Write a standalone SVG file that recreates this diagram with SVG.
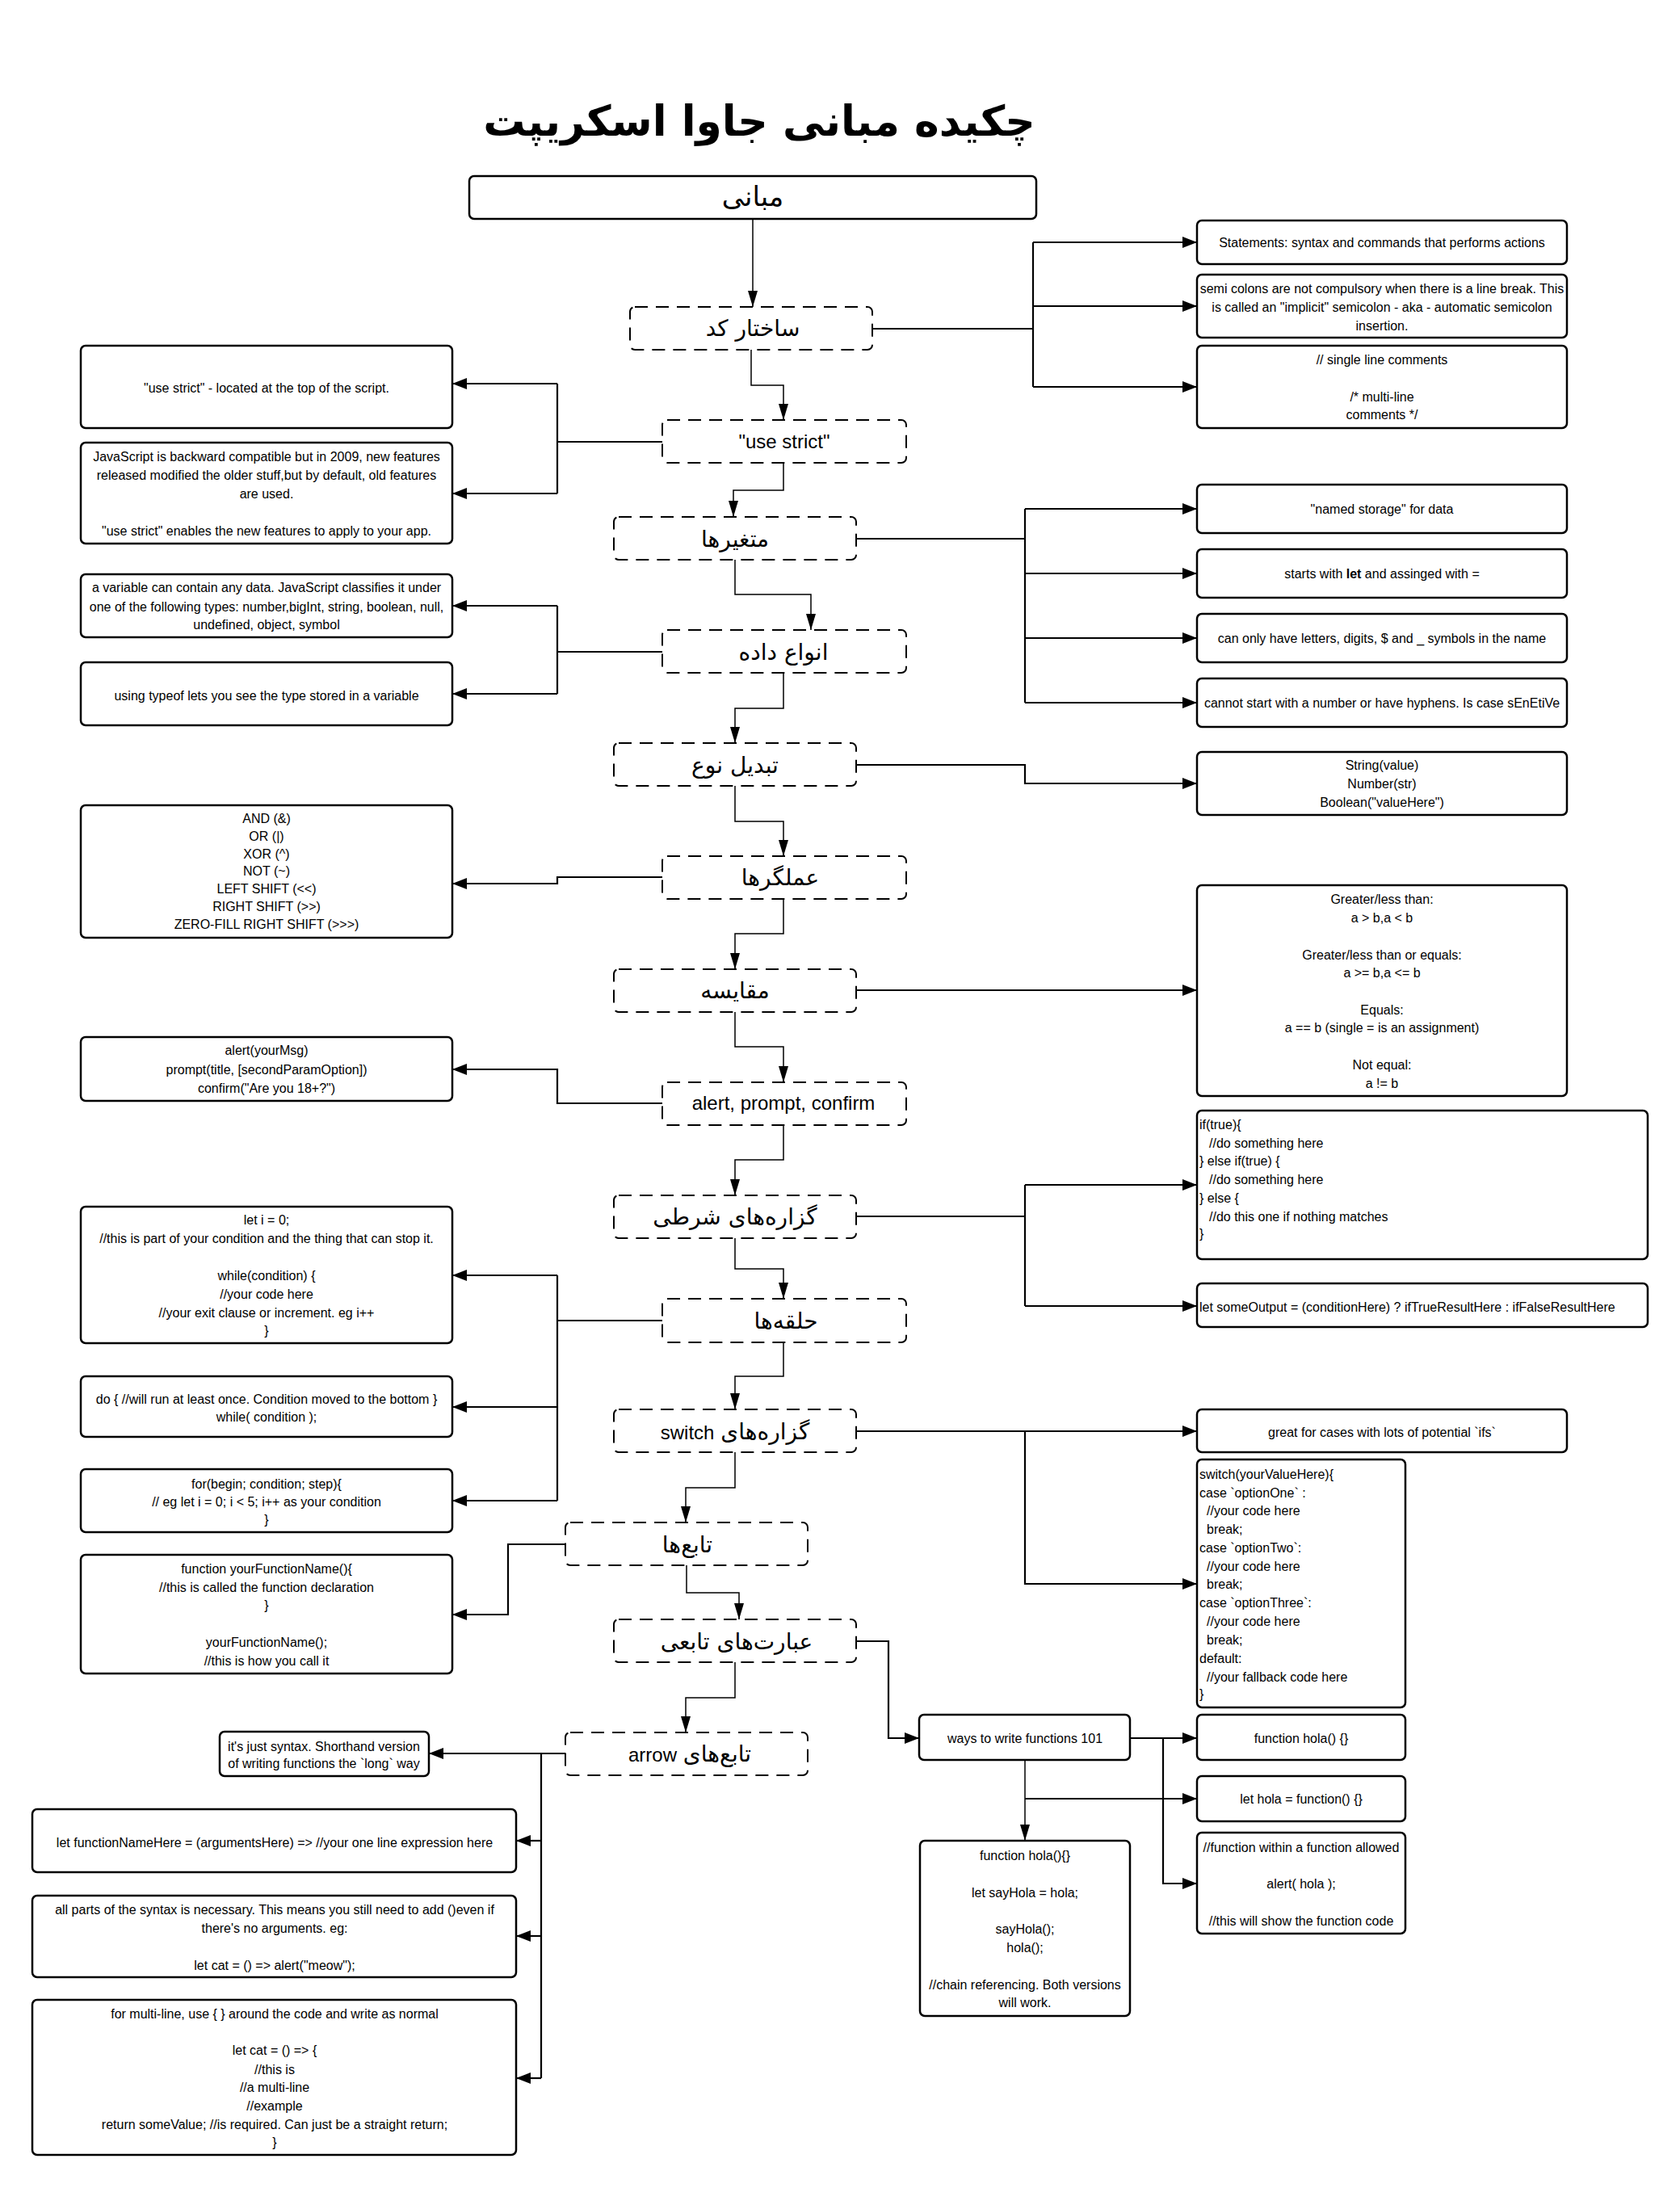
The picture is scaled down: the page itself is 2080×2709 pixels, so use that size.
<svg xmlns="http://www.w3.org/2000/svg" width="2080" height="2709" viewBox="0 0 2080 2709">
<style>
.box{fill:#fff;stroke:#000;stroke-width:2.5}
.dbox{fill:#fff;stroke:#000;stroke-width:2;stroke-dasharray:16 10}
.t{font-family:"Liberation Sans",sans-serif;font-size:16px;fill:#000}
.c{text-anchor:middle}
.lbl{font-family:"Liberation Sans","DejaVu Sans",sans-serif;font-size:24px;text-anchor:middle;fill:#000}
.fa{font-family:"DejaVu Sans",sans-serif;font-size:28px;text-anchor:middle;fill:#000}
.mix{font-family:"Liberation Sans","DejaVu Sans",sans-serif;font-size:28px;text-anchor:middle;fill:#000}
.side{fill:none;stroke:#000;stroke-width:2.2}
.main{fill:none;stroke:#000;stroke-width:1.5}
</style>
<defs>
<marker id="ab" markerWidth="18" markerHeight="14" refX="18" refY="7" orient="auto" markerUnits="userSpaceOnUse"><path d="M0,0 L18,7 L0,14 z" fill="#000"/></marker>
<marker id="an" markerWidth="20" markerHeight="12" refX="20" refY="6" orient="auto" markerUnits="userSpaceOnUse"><path d="M0,0 L20,6 L0,12 z" fill="#000"/></marker>
</defs>
<rect width="2080" height="2709" fill="#fff"/>
<text x="940" y="168" direction="rtl" style="font-family:'DejaVu Sans',sans-serif;font-size:52px;font-weight:bold;text-anchor:middle">چکیده مبانی جاوا اسکریپت</text>

<g id="connectors">
<path class="main" d="M932,271 V380" marker-end="url(#an)"/>
<path class="side" d="M1080,407 H1279"/>
<path class="side" d="M1279,300 V479"/>
<path class="side" d="M1279,300 H1482" marker-end="url(#ab)"/>
<path class="side" d="M1279,379 H1482" marker-end="url(#ab)"/>
<path class="side" d="M1279,479 H1482" marker-end="url(#ab)"/>
<path class="main" d="M930,433 V477 H970 V520" marker-end="url(#an)"/>
<path class="side" d="M820,547 H690"/>
<path class="side" d="M690,475 V611"/>
<path class="side" d="M690,475 H560" marker-end="url(#ab)"/>
<path class="side" d="M690,611 H560" marker-end="url(#ab)"/>
<path class="main" d="M970,573 V607 H908 V640" marker-end="url(#an)"/>
<path class="side" d="M1060,667 H1269"/>
<path class="side" d="M1269,630 V870"/>
<path class="side" d="M1269,630 H1482" marker-end="url(#ab)"/>
<path class="side" d="M1269,710 H1482" marker-end="url(#ab)"/>
<path class="side" d="M1269,790 H1482" marker-end="url(#ab)"/>
<path class="side" d="M1269,870 H1482" marker-end="url(#ab)"/>
<path class="main" d="M910,693 V736 H1004 V780" marker-end="url(#an)"/>
<path class="side" d="M820,807 H690"/>
<path class="side" d="M690,750 V859"/>
<path class="side" d="M690,750 H560" marker-end="url(#ab)"/>
<path class="side" d="M690,859 H560" marker-end="url(#ab)"/>
<path class="main" d="M970,833 V877 H910 V920" marker-end="url(#an)"/>
<path class="side" d="M1060,947 H1269 V970 H1482" marker-end="url(#ab)"/>
<path class="main" d="M910,973 V1017 H970 V1060" marker-end="url(#an)"/>
<path class="side" d="M820,1086 H690 V1094 H560" marker-end="url(#ab)"/>
<path class="main" d="M970,1113 V1156 H910 V1200" marker-end="url(#an)"/>
<path class="side" d="M1060,1226 H1482" marker-end="url(#ab)"/>
<path class="main" d="M910,1253 V1296 H970 V1340" marker-end="url(#an)"/>
<path class="side" d="M820,1366 H690 V1324 H560" marker-end="url(#ab)"/>
<path class="main" d="M970,1393 V1436 H910 V1480" marker-end="url(#an)"/>
<path class="side" d="M1060,1506 H1269"/>
<path class="side" d="M1269,1467 V1617"/>
<path class="side" d="M1269,1467 H1482" marker-end="url(#ab)"/>
<path class="side" d="M1269,1617 H1482" marker-end="url(#ab)"/>
<path class="main" d="M910,1533 V1571 H970 V1608" marker-end="url(#an)"/>
<path class="side" d="M820,1635 H690"/>
<path class="side" d="M690,1579 V1858"/>
<path class="side" d="M690,1579 H560" marker-end="url(#ab)"/>
<path class="side" d="M690,1742 H560" marker-end="url(#ab)"/>
<path class="side" d="M690,1858 H560" marker-end="url(#ab)"/>
<path class="main" d="M970,1662 V1704 H910 V1745" marker-end="url(#an)"/>
<path class="side" d="M1060,1772 H1482" marker-end="url(#ab)"/>
<path class="side" d="M1269,1772 V1961 H1482" marker-end="url(#ab)"/>
<path class="main" d="M910,1798 V1842 H849 V1885" marker-end="url(#an)"/>
<path class="side" d="M700,1912 H629 V1999 H560" marker-end="url(#ab)"/>
<path class="main" d="M850,1938 V1972 H915 V2005" marker-end="url(#an)"/>
<path class="side" d="M1060,2032 H1100 V2152 H1138" marker-end="url(#ab)"/>
<path class="side" d="M1399,2152 H1482" marker-end="url(#ab)"/>
<path class="side" d="M1440,2152 V2332 H1482" marker-end="url(#ab)"/>
<path class="main" d="M1269,2179 V2279" marker-end="url(#an)"/>
<path class="side" d="M1269,2227 H1482" marker-end="url(#ab)"/>
<path class="main" d="M910,2058 V2102 H849 V2145" marker-end="url(#an)"/>
<path class="side" d="M700,2171 H531" marker-end="url(#ab)"/>
<path class="side" d="M670,2171 V2573"/>
<path class="side" d="M670,2279 H639" marker-end="url(#ab)"/>
<path class="side" d="M670,2397 H639" marker-end="url(#ab)"/>
<path class="side" d="M670,2573 H639" marker-end="url(#ab)"/>
</g>

<g id="n-main"><rect class="box" x="581" y="218" width="702" height="53" rx="6"/><text class="fa" x="932" y="255" style="font-size:34px">مبانی</text></g>
<g id="n-struct"><rect class="dbox" x="780" y="380" width="300" height="53" rx="6"/><text class="fa" x="932" y="416">ساختار کد</text></g>
<g id="r-statements"><rect class="box" x="1482" y="273" width="458" height="54" rx="6"/><text class="t c" x="1711" y="306">Statements: syntax and commands that performs actions</text></g>
<g id="r-semicolon"><rect class="box" x="1482" y="340" width="458" height="78" rx="6"/><text class="t c"><tspan x="1711" y="363">semi colons are not compulsory when there is a line break. This</tspan><tspan x="1711" y="386">is called an "implicit" semicolon - aka - automatic semicolon</tspan><tspan x="1711" y="409">insertion.</tspan></text></g>
<g id="r-comments"><rect class="box" x="1482" y="428" width="458" height="102" rx="6"/><text class="t c"><tspan x="1711" y="451">// single line comments</tspan><tspan x="1711" y="497">/* multi-line</tspan><tspan x="1711" y="519">comments */</tspan></text></g>

<g id="n-strict"><rect class="dbox" x="820" y="520" width="302" height="53" rx="6"/><text class="lbl" x="971" y="555">"use strict"</text></g>
<g id="l-strict1"><rect class="box" x="100" y="428" width="460" height="102" rx="6"/><text class="t c" x="330" y="486">"use strict" - located at the top of the script.</text></g>
<g id="l-strict2"><rect class="box" x="100" y="548" width="460" height="125" rx="6"/><text class="t c"><tspan x="330" y="571">JavaScript is backward compatible but in 2009, new features</tspan><tspan x="330" y="594">released modified the older stuff,but by default, old features</tspan><tspan x="330" y="617">are used.</tspan><tspan x="330" y="663">"use strict" enables the new features to apply to your app.</tspan></text></g>

<g id="n-vars"><rect class="dbox" x="760" y="640" width="300" height="53" rx="6"/><text class="fa" x="910" y="677">متغیرها</text></g>
<g id="r-vars1"><rect class="box" x="1482" y="600" width="458" height="60" rx="6"/><text class="t c" x="1711" y="636">"named storage" for data</text></g>
<g id="r-vars2"><rect class="box" x="1482" y="680" width="458" height="60" rx="6"/><text class="t c" x="1711" y="716">starts with <tspan font-weight="bold">let</tspan> and assinged with =</text></g>
<g id="r-vars3"><rect class="box" x="1482" y="760" width="458" height="60" rx="6"/><text class="t c" x="1711" y="796">can only have letters, digits, $ and _ symbols in the name</text></g>
<g id="r-vars4"><rect class="box" x="1482" y="840" width="458" height="60" rx="6"/><text class="t c" x="1711" y="876">cannot start with a number or have hyphens. Is case sEnEtiVe</text></g>

<g id="n-types"><rect class="dbox" x="820" y="780" width="302" height="53" rx="6"/><text class="fa" x="970" y="817">انواع داده</text></g>
<g id="l-types1"><rect class="box" x="100" y="711" width="460" height="78" rx="6"/><text class="t c"><tspan x="330" y="733">a variable can contain any data. JavaScript classifies it under</tspan><tspan x="330" y="757">one of the following types: number,bigInt, string, boolean, null,</tspan><tspan x="330" y="779">undefined, object, symbol</tspan></text></g>
<g id="l-types2"><rect class="box" x="100" y="820" width="460" height="78" rx="6"/><text class="t c" x="330" y="867">using typeof lets you see the type stored in a variable</text></g>

<g id="n-conv"><rect class="dbox" x="760" y="920" width="300" height="53" rx="6"/><text class="fa" x="910" y="957">تبدیل نوع</text></g>
<g id="r-conv"><rect class="box" x="1482" y="931" width="458" height="78" rx="6"/><text class="t c"><tspan x="1711" y="953">String(value)</tspan><tspan x="1711" y="976">Number(str)</tspan><tspan x="1711" y="999">Boolean("valueHere")</tspan></text></g>

<g id="n-ops"><rect class="dbox" x="820" y="1060" width="302" height="53" rx="6"/><text class="fa" x="966" y="1096">عملگرها</text></g>
<g id="l-ops"><rect class="box" x="100" y="997" width="460" height="164" rx="6"/><text class="t c" fill="#222"><tspan x="330" y="1019">AND (&amp;)</tspan><tspan x="330" y="1041">OR (|)</tspan><tspan x="330" y="1063">XOR (^)</tspan><tspan x="330" y="1084">NOT (~)</tspan><tspan x="330" y="1106">LEFT SHIFT (&lt;&lt;)</tspan><tspan x="330" y="1128">RIGHT SHIFT (&gt;&gt;)</tspan><tspan x="330" y="1150">ZERO-FILL RIGHT SHIFT (&gt;&gt;&gt;)</tspan></text></g>

<g id="n-cmp"><rect class="dbox" x="760" y="1200" width="300" height="53" rx="6"/><text class="fa" x="910" y="1236">مقایسه</text></g>
<g id="r-cmp"><rect class="box" x="1482" y="1096" width="458" height="261" rx="6"/><text class="t c"><tspan x="1711" y="1119">Greater/less than:</tspan><tspan x="1711" y="1142">a &gt; b,a &lt; b</tspan><tspan x="1711" y="1188">Greater/less than or equals:</tspan><tspan x="1711" y="1210">a &gt;= b,a &lt;= b</tspan><tspan x="1711" y="1256">Equals:</tspan><tspan x="1711" y="1278">a == b (single = is an assignment)</tspan><tspan x="1711" y="1324">Not equal:</tspan><tspan x="1711" y="1347">a != b</tspan></text></g>

<g id="n-alert"><rect class="dbox" x="820" y="1340" width="302" height="53" rx="6"/><text class="lbl" x="970" y="1374">alert, prompt, confirm</text></g>
<g id="l-alert"><rect class="box" x="100" y="1284" width="460" height="79" rx="6"/><text class="t c"><tspan x="330" y="1306">alert(yourMsg)</tspan><tspan x="330" y="1330">prompt(title, [secondParamOption])</tspan><tspan x="330" y="1353">confirm("Are you 18+?")</tspan></text></g>

<g id="n-cond"><rect class="dbox" x="760" y="1480" width="300" height="53" rx="6"/><text class="fa" x="910" y="1516">گزاره‌های شرطی</text></g>
<g id="r-if"><rect class="box" x="1482" y="1375" width="558" height="184" rx="6"/><text class="t"><tspan x="1485" y="1398">if(true){</tspan><tspan x="1497" y="1421">//do something here</tspan><tspan x="1485" y="1443">} else if(true) {</tspan><tspan x="1497" y="1466">//do something here</tspan><tspan x="1485" y="1489">} else {</tspan><tspan x="1497" y="1512">//do this one if nothing matches</tspan><tspan x="1485" y="1533">}</tspan></text></g>
<g id="r-tern"><rect class="box" x="1482" y="1589" width="558" height="54" rx="6"/><text class="t" x="1485" y="1624">let someOutput = (conditionHere) ? ifTrueResultHere : ifFalseResultHere</text></g>

<g id="n-loops"><rect class="dbox" x="820" y="1608" width="302" height="54" rx="6"/><text class="fa" x="973" y="1645">حلقه‌ها</text></g>
<g id="l-while"><rect class="box" x="100" y="1494" width="460" height="169" rx="6"/><text class="t c"><tspan x="330" y="1516">let i = 0;</tspan><tspan x="330" y="1539">//this is part of your condition and the thing that can stop it.</tspan><tspan x="330" y="1585">while(condition) {</tspan><tspan x="330" y="1608">//your code here</tspan><tspan x="330" y="1631">//your exit clause or increment. eg i++</tspan><tspan x="330" y="1653">}</tspan></text></g>
<g id="l-do"><rect class="box" x="100" y="1704" width="460" height="75" rx="6"/><text class="t c"><tspan x="330" y="1738">do { //will run at least once. Condition moved to the bottom }</tspan><tspan x="330" y="1760">while( condition );</tspan></text></g>
<g id="l-for"><rect class="box" x="100" y="1819" width="460" height="78" rx="6"/><text class="t c"><tspan x="330" y="1843">for(begin; condition; step){</tspan><tspan x="330" y="1865">// eg let i = 0; i &lt; 5; i++ as your condition</tspan><tspan x="330" y="1887">}</tspan></text></g>

<g id="n-switch"><rect class="dbox" x="760" y="1745" width="300" height="53" rx="6"/><text class="mix" x="910" y="1782" direction="rtl">گزاره‌های <tspan style="font-size:24px">switch</tspan></text></g>
<g id="r-great"><rect class="box" x="1482" y="1745" width="458" height="53" rx="6"/><text class="t c" x="1711" y="1779">great for cases with lots of potential `ifs`</text></g>
<g id="r-switch"><rect class="box" x="1482" y="1807" width="258" height="307" rx="6"/><text class="t"><tspan x="1485" y="1831">switch(yourValueHere){</tspan><tspan x="1485" y="1854">case `optionOne` :</tspan><tspan x="1494" y="1876">//your code here</tspan><tspan x="1494" y="1899">break;</tspan><tspan x="1485" y="1922">case `optionTwo`:</tspan><tspan x="1494" y="1945">//your code here</tspan><tspan x="1494" y="1967">break;</tspan><tspan x="1485" y="1990">case `optionThree`:</tspan><tspan x="1494" y="2013">//your code here</tspan><tspan x="1494" y="2036">break;</tspan><tspan x="1485" y="2059">default:</tspan><tspan x="1494" y="2082">//your fallback code here</tspan><tspan x="1485" y="2103">}</tspan></text></g>

<g id="n-funcs"><rect class="dbox" x="700" y="1885" width="300" height="53" rx="6"/><text class="fa" x="851" y="1922">تابع‌ها</text></g>
<g id="l-func"><rect class="box" x="100" y="1925" width="460" height="147" rx="6"/><text class="t c"><tspan x="330" y="1948">function yourFunctionName(){</tspan><tspan x="330" y="1971">//this is called the function declaration</tspan><tspan x="330" y="1993">}</tspan><tspan x="330" y="2039">yourFunctionName();</tspan><tspan x="330" y="2062">//this is how you call it</tspan></text></g>

<g id="n-fexpr"><rect class="dbox" x="760" y="2005" width="300" height="53" rx="6"/><text class="fa" x="912" y="2042">عبارت‌های تابعی</text></g>
<g id="n-ways"><rect class="box" x="1138" y="2123" width="261" height="56" rx="6"/><text class="t c" x="1269" y="2158">ways to write functions 101</text></g>
<g id="r-hola1"><rect class="box" x="1482" y="2123" width="258" height="56" rx="6"/><text class="t c" x="1611" y="2158">function hola() {}</text></g>
<g id="r-hola2"><rect class="box" x="1482" y="2199" width="258" height="56" rx="6"/><text class="t c" x="1611" y="2233">let hola = function() {}</text></g>
<g id="r-within"><rect class="box" x="1482" y="2269" width="258" height="125" rx="6"/><text class="t c"><tspan x="1611" y="2293">//function within a function allowed</tspan><tspan x="1611" y="2338">alert( hola );</tspan><tspan x="1611" y="2384">//this will show the function code</tspan></text></g>
<g id="b-chain"><rect class="box" x="1139" y="2279" width="260" height="217" rx="6"/><text class="t c"><tspan x="1269" y="2303">function hola(){}</tspan><tspan x="1269" y="2349">let sayHola = hola;</tspan><tspan x="1269" y="2394">sayHola();</tspan><tspan x="1269" y="2417">hola();</tspan><tspan x="1269" y="2463">//chain referencing. Both versions</tspan><tspan x="1269" y="2485">will work.</tspan></text></g>

<g id="n-arrow"><rect class="dbox" x="700" y="2145" width="300" height="53" rx="6"/><text class="mix" x="854" y="2181" direction="rtl">تابع‌های <tspan style="font-size:24px">arrow</tspan></text></g>
<g id="l-syntax"><rect class="box" x="272" y="2144" width="259" height="55" rx="6"/><text class="t c"><tspan x="401" y="2168">it's just syntax. Shorthand version</tspan><tspan x="401" y="2189">of writing functions the `long` way</tspan></text></g>
<g id="l-oneline"><rect class="box" x="40" y="2240" width="599" height="78" rx="6"/><text class="t c" x="340" y="2287">let functionNameHere = (argumentsHere) =&gt; //your one line expression here</text></g>
<g id="l-parts"><rect class="box" x="40" y="2347" width="599" height="101" rx="6"/><text class="t c"><tspan x="340" y="2370">all parts of the syntax is necessary. This means you still need to add ()even if</tspan><tspan x="340" y="2393">there's no arguments. eg:</tspan><tspan x="340" y="2439">let cat = () =&gt; alert("meow");</tspan></text></g>
<g id="l-multi"><rect class="box" x="40" y="2476" width="599" height="192" rx="6"/><text class="t c"><tspan x="340" y="2499">for multi-line, use { } around the code and write as normal</tspan><tspan x="340" y="2544">let cat = () =&gt; {</tspan><tspan x="340" y="2568">//this is</tspan><tspan x="340" y="2590">//a multi-line</tspan><tspan x="340" y="2613">//example</tspan><tspan x="340" y="2636">return someValue; //is required. Can just be a straight return;</tspan><tspan x="340" y="2658">}</tspan></text></g>
</svg>
